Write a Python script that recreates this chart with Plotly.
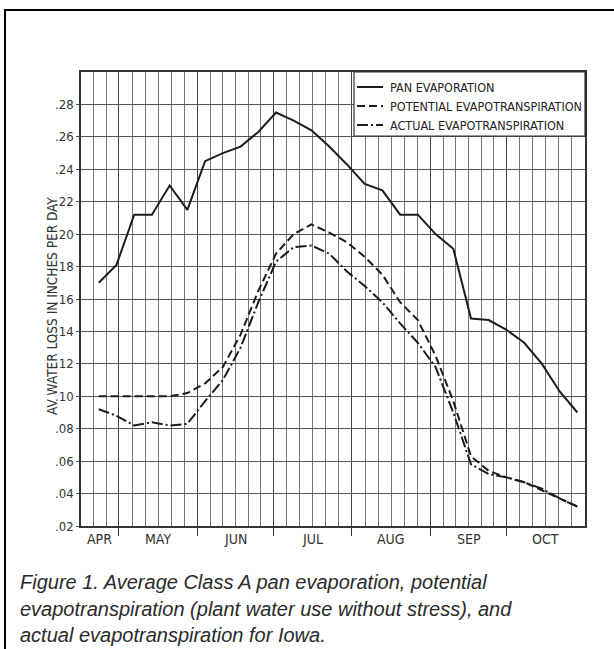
import plotly.graph_objects as go
import pandas as pd

# ---------------- data ----------------
week_dates = ["2001-04-23", "2001-04-30", "2001-05-07", "2001-05-14", "2001-05-21",
              "2001-05-28", "2001-06-04", "2001-06-11", "2001-06-18", "2001-06-25",
              "2001-07-02", "2001-07-09", "2001-07-16", "2001-07-23", "2001-07-30",
              "2001-08-06", "2001-08-13", "2001-08-20", "2001-08-27", "2001-09-03",
              "2001-09-10", "2001-09-17", "2001-09-24", "2001-10-01", "2001-10-08",
              "2001-10-15", "2001-10-22", "2001-10-29"]

pan_evaporation = [0.170, 0.181, 0.212, 0.212, 0.230, 0.215, 0.245, 0.250, 0.254, 0.263,
                   0.275, 0.270, 0.264, 0.254, 0.243, 0.231, 0.227, 0.212, 0.212, 0.200,
                   0.191, 0.148, 0.147, 0.141, 0.133, 0.120, 0.103, 0.090]

potential_et = [0.100, 0.100, 0.100, 0.100, 0.100, 0.102, 0.108, 0.118, 0.138, 0.165,
                0.188, 0.200, 0.206, 0.201, 0.195, 0.186, 0.175, 0.158, 0.147, 0.125,
                0.097, 0.063, 0.054, 0.050, 0.047, 0.042, 0.037, 0.032]

actual_et = [0.092, 0.088, 0.082, 0.084, 0.082, 0.083, 0.097, 0.110, 0.130, 0.158,
             0.183, 0.192, 0.193, 0.188, 0.177, 0.168, 0.158, 0.145, 0.133, 0.118,
             0.090, 0.058, 0.052, 0.050, 0.047, 0.043, 0.037, 0.032]

series_names = ["PAN EVAPORATION", "POTENTIAL EVAPOTRANSPIRATION", "ACTUAL EVAPOTRANSPIRATION"]

y_tick_values = [0.02, 0.04, 0.06, 0.08, 0.10, 0.12, 0.14, 0.16, 0.18, 0.20, 0.22, 0.24, 0.26, 0.28]
y_tick_labels = [".02", ".04", ".06", ".08", ".10", ".12", ".14", ".16", ".18", ".20", ".22", ".24", ".26", ".28"]

month_names = ["APR", "MAY", "JUN", "JUL", "AUG", "SEP", "OCT"]
month_starts = ["2001-04-01", "2001-05-01", "2001-06-01", "2001-07-01", "2001-08-01",
                "2001-09-01", "2001-10-01", "2001-11-01"]

y_title = "AV WATER LOSS IN INCHES PER DAY"
caption_lines = ["Figure 1. Average Class A pan evaporation, potential",
                 "evapotranspiration (plant water use without stress), and",
                 "actual evapotranspiration for Iowa."]

# ---------------- layout geometry ----------------
W, H = 614, 649
L, R, T, B = 81, 585, 72, 526          # plot area in pixels
X_RANGE = ["2001-04-16", "2001-11-01"]
Y_RANGE = [0.02, 0.30]

NARROW = "Liberation Sans Narrow, DejaVu Sans Condensed, Arial Narrow, sans-serif"
CAPTION_FONT = "Liberation Sans, Arial, Helvetica, sans-serif"
INK = "#1c1c1c"


def px_x(px):
    return (px - L) / (R - L)


def px_y(py):
    return (B - py) / (B - T)


fig = go.Figure()

dashes = ["solid", "8px,4px", "11px,3px,2px,3px"]
for name, vals, dash in zip(series_names, [pan_evaporation, potential_et, actual_et], dashes):
    fig.add_trace(go.Scatter(x=week_dates, y=vals, mode="lines", name=name,
                             line=dict(color=INK, width=2, dash=dash),
                             showlegend=False))

# grid: month boundaries (major) and 6 subdivisions per month (minor)
ms = [pd.Timestamp(d) for d in month_starts]
rng0, rng1 = pd.Timestamp(X_RANGE[0]), pd.Timestamp(X_RANGE[1])
major_vals = [m for m in ms[1:-1]]
minor_vals = []
for a, b in zip(ms[:-1], ms[1:]):
    span = (b - a)
    for k in range(1, 6):
        t = a + span * k / 6
        if rng0 < t < rng1:
            minor_vals.append(t)

fig.update_xaxes(
    type="date", range=X_RANGE,
    tickmode="array", tickvals=major_vals, showticklabels=False,
    ticks="outside", ticklen=8, tickwidth=1.3, tickcolor="#333",
    showgrid=True, gridcolor="#444", gridwidth=1.3,
    minor=dict(tickmode="array", tickvals=minor_vals, showgrid=True,
               gridcolor="#777", gridwidth=1, ticks=""),
    showline=True, linecolor="#333", linewidth=1.5, mirror=True,
    zeroline=False,
)
fig.update_yaxes(
    range=Y_RANGE, tickmode="array", tickvals=y_tick_values, ticktext=y_tick_labels,
    ticks="outside", ticklen=3, tickcolor="#555", tickwidth=1,
    tickfont=dict(family=NARROW, size=13, color="#333"),
    showgrid=True, gridcolor="#555", gridwidth=1.2,
    showline=True, linecolor="#333", linewidth=1.5, mirror=True,
    zeroline=False,
)

annotations = []
# month labels centred on the visible part of each month
for name, a, b in zip(month_names, ms[:-1], ms[1:]):
    a2, b2 = max(a, rng0), min(b, rng1)
    mid = a2 + (b2 - a2) / 2
    annotations.append(dict(x=mid, xref="x", y=px_y(539), yref="paper", text=name,
                            showarrow=False, xanchor="center", yanchor="middle",
                            font=dict(family=NARROW, size=14, color="#333")))

# y-axis title
annotations.append(dict(x=px_x(62), xref="paper", y=px_y(306), yref="paper", text=y_title,
                        textangle=-90, showarrow=False, xanchor="right", yanchor="middle",
                        font=dict(family=NARROW, size=13.5, color="#333")))

# caption
for i, line in enumerate(caption_lines):
    annotations.append(dict(x=px_x(18), xref="paper", y=px_y(582 + 26.6 * i), yref="paper",
                            text=line, showarrow=False, xanchor="left", yanchor="middle",
                            font=dict(family=CAPTION_FONT, size=20, color="#2a2a2a",
                                      style="italic")))

shapes = []
# outer frame
shapes.append(dict(type="rect", xref="paper", yref="paper",
                   x0=px_x(5), x1=px_x(630), y0=px_y(670), y1=px_y(10),
                   line=dict(color="#000", width=2), fillcolor="rgba(0,0,0,0)", layer="above"))
# legend box
shapes.append(dict(type="rect", xref="paper", yref="paper",
                   x0=px_x(354), x1=px_x(R), y0=px_y(136), y1=px_y(T),
                   line=dict(color="#333", width=1.2), fillcolor="white", layer="above"))
# legend samples and texts
row_y = [87, 106, 125]
for name, dash, ry in zip(series_names, dashes, row_y):
    shapes.append(dict(type="line", xref="paper", yref="paper",
                       x0=px_x(357), x1=px_x(383), y0=px_y(ry), y1=px_y(ry),
                       line=dict(color=INK, width=2, dash=dash), layer="above"))
    annotations.append(dict(x=px_x(388), xref="paper", y=px_y(ry), yref="paper", text=name,
                            showarrow=False, xanchor="left", yanchor="middle",
                            font=dict(family=NARROW, size=12.5, color="#222")))

fig.update_layout(
    width=W, height=H, autosize=False,
    margin=dict(l=L, r=W - R, t=T, b=H - B, pad=0),
    paper_bgcolor="white", plot_bgcolor="white",
    annotations=annotations, shapes=shapes, showlegend=False,
)

fig.write_html("out.html", config={"displayModeBar": False},
               post_script="document.body.style.margin='0';document.body.style.overflow='hidden';")
